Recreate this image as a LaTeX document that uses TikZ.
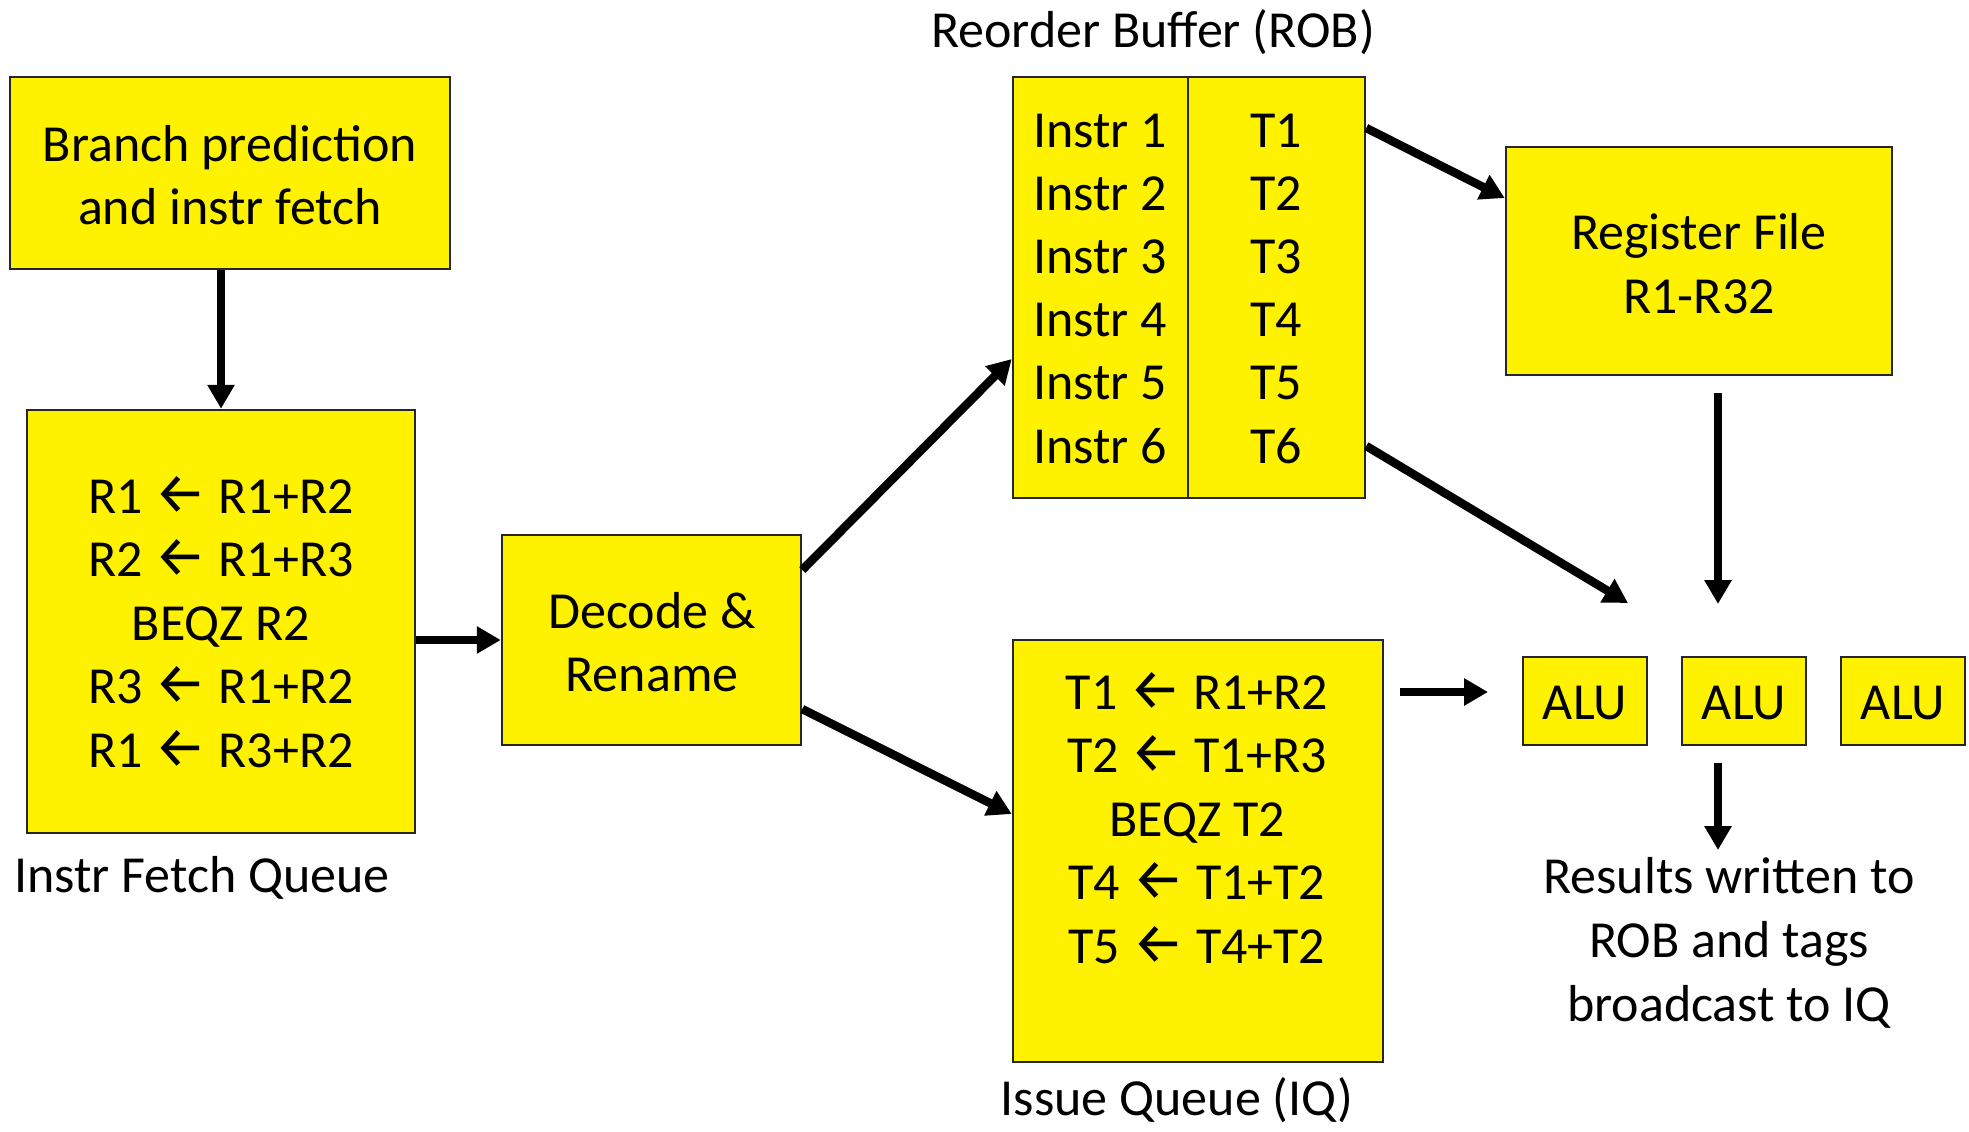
\documentclass[tikz,border=0pt]{standalone}
\usepackage{fontspec}
\setmainfont{Carlito}
\newfontfamily\arrowfont{Fira Sans}
\usetikzlibrary{arrows.meta}
\newcommand{\la}{{\arrowfont\fontsize{58bp}{63bp}\selectfont ←}}
\begin{document}
\begin{tikzpicture}[x=1bp,y=-1bp,
  box/.style={draw=black!85, line width=2.5bp, fill=yellow, inner sep=0pt},
  txt/.style={font=\fontsize{52bp}{63bp}\selectfont, inner sep=0pt, anchor=base},
  conn/.style={line width=8.5bp, -{Triangle[length=24bp,width=26bp]}}]
\useasboundingbox (0,0) rectangle (1969,1131);
% boxes
\node[box, minimum width=440bp, minimum height=192bp] (branch) at (230,173) {};
\node[box, minimum width=388bp, minimum height=423bp] (ifq) at (221,621.5) {};
\node[box, minimum width=299bp, minimum height=210bp] (decode) at (651.5,640) {};
\node[box, minimum width=175bp, minimum height=421bp] (robL) at (1100.5,287.5) {};
\node[box, minimum width=177bp, minimum height=421bp] (robR) at (1276.5,287.5) {};
\node[box, minimum width=386bp, minimum height=228bp] (regfile) at (1699,261) {};
\node[box, minimum width=370bp, minimum height=422bp] (iq) at (1198,851) {};
\node[box, minimum width=124bp, minimum height=88bp] (alu1) at (1585,701) {};
\node[box, minimum width=124bp, minimum height=88bp] (alu2) at (1744,701) {};
\node[box, minimum width=124bp, minimum height=88bp] (alu3) at (1903,701) {};
% texts
\node[txt] (tb1) at (230,161) {Branch prediction};
\node[txt] (tb2) at (230,224) {and instr fetch};
\node[txt] (td1) at (652,628) {Decode \&};
\node[txt] (td2) at (652,691) {Rename};
\node[txt] (tr1) at (1699,249) {Register File};
\node[txt] (tr2) at (1699,313) {R1-R32};
\foreach \t [count=\i from 0] in {R1 \la{} R1+R2, R2 \la{} R1+R3, BEQZ R2, R3 \la{} R1+R2, R1 \la{} R3+R2}
  \node[txt] (tf\i) at (221,513+63.5*\i) {\t};
\foreach \t [count=\i from 0] in {T1 \la{} R1+R2, T2 \la{} T1+R3, BEQZ T2, T4 \la{} T1+T2, T5 \la{} T4+T2}
  \node[txt] (tq\i) at (1197,709+63.5*\i) {\t};
\foreach \i in {1,...,6} {
  \node[txt] (ti\i) at (1100,147+63.2*\i-63.2) {Instr \i};
  \node[txt] (tt\i) at (1276,147+63.2*\i-63.2) {T\i};
}
\node[txt] (ta1) at (alu1 |- 0,719) {ALU};
\node[txt] (ta2) at (alu2 |- 0,719) {ALU};
\node[txt] (ta3) at (alu3 |- 0,719) {ALU};
\node[txt] (lrob) at (1153,47) {Reorder Buffer (ROB)};
\node[txt, anchor=base west] (lifq) at (14,892) {Instr Fetch Queue};
\node[txt] (liq) at (1177,1115) {Issue Queue (IQ)};
\node[txt] (res1) at (1729,893) {Results written to};
\node[txt] (res2) at (1729,957) {ROB and tags};
\node[txt] (res3) at (1729,1021) {broadcast to IQ};
% free ends
\coordinate (aluin) at (1628,603);
\coordinate (rfout) at (1718,393);
\coordinate (rfin) at (1718,604);
\coordinate (iqout) at (1400,692);
\coordinate (aluleft) at (1488,692);
\coordinate (aluout) at (1718,763);
\coordinate (resin) at (1718,850);
% connectors
\draw[conn] (branch.south) ++(-9,0) coordinate (bs) (bs) -- (bs |- ifq.north);
\draw[conn] (ifq.east |- decode.west) -- (decode.west);
\draw[conn] ([yshift=70bp]decode.east) -- ([yshift=-71.5bp]robL.west);
\draw[conn] ([yshift=-69bp]decode.east) -- ([yshift=37bp]iq.west);
\draw[conn] ([yshift=159.5bp]robR.east) -- ([yshift=63bp]regfile.west);
\draw[conn] ([yshift=-158.5bp]robR.east) -- (aluin);
\draw[conn] (rfout) -- (rfin);
\draw[conn] (iqout) -- (aluleft);
\draw[conn] (aluout) -- (resin);
\end{tikzpicture}
\end{document}
